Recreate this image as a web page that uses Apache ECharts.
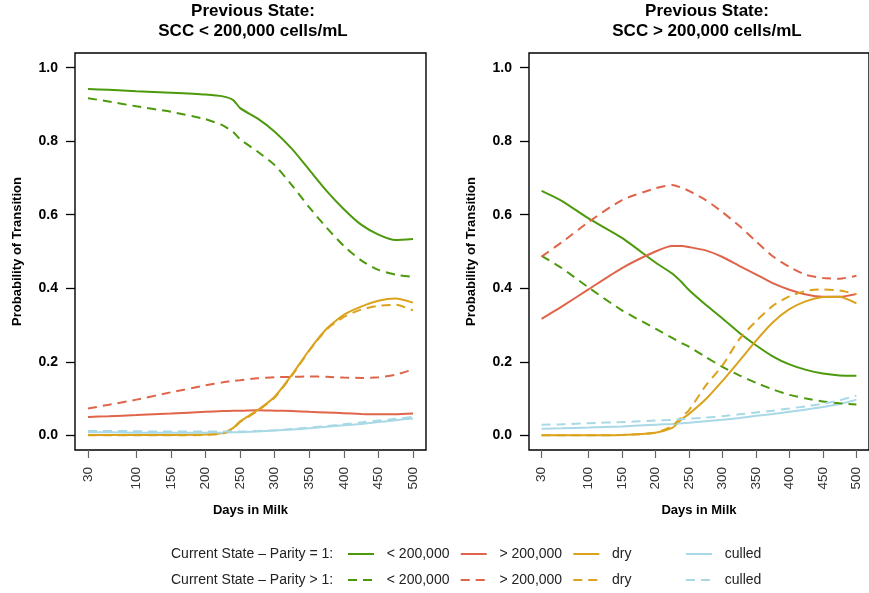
<!DOCTYPE html>
<html>
<head>
<meta charset="utf-8">
<script src="https://cdn.jsdelivr.net/npm/echarts@6/dist/echarts.min.js"></script>
<style>
html,body{margin:0;padding:0;background:#fff;}
#chart{width:869px;height:593px;}
</style>
</head>
<body>
<div id="chart"></div>
<script>
// ---------------- data ----------------
const days = [30, 60, 100, 150, 200, 225, 240, 250, 275, 300, 325, 350, 375, 400, 425, 450, 475, 500];
const dayTicks = [30, 100, 150, 200, 250, 300, 350, 400, 450, 500];
const probTicks = [0, 0.2, 0.4, 0.6, 0.8, 1.0];
const stateNames = ['< 200,000', '> 200,000', 'dry', 'culled'];
const parityLabels = ['Current State \u2013 Parity = 1:', 'Current State \u2013 Parity > 1:'];
const panelTitles = ['Previous State:\nSCC < 200,000 cells/mL', 'Previous State:\nSCC > 200,000 cells/mL'];
const xTitle = 'Days in Milk';
const yTitle = 'Probability of Transition';

// Left panel: previous state SCC < 200,000
const leftP1Low  = [0.942,0.940,0.936,0.932,0.927,0.922,0.912,0.890,0.862,0.826,0.779,0.722,0.665,0.615,0.573,0.546,0.531,0.534];
const leftP2Low  = [0.917,0.908,0.895,0.880,0.860,0.843,0.825,0.805,0.772,0.735,0.680,0.620,0.565,0.515,0.476,0.450,0.437,0.431];
const leftP1High = [0.050,0.052,0.055,0.059,0.064,0.066,0.067,0.067,0.068,0.067,0.066,0.064,0.062,0.060,0.058,0.057,0.057,0.059];
const leftP2High = [0.073,0.083,0.097,0.117,0.136,0.144,0.148,0.150,0.155,0.158,0.159,0.160,0.159,0.157,0.156,0.158,0.165,0.179];
const leftP1Dry  = [0.001,0.001,0.001,0.001,0.002,0.006,0.020,0.038,0.068,0.105,0.165,0.232,0.290,0.328,0.350,0.366,0.372,0.361];
const leftP2Dry  = [0.000,0.000,0.000,0.000,0.001,0.005,0.018,0.036,0.066,0.103,0.163,0.230,0.288,0.322,0.342,0.352,0.355,0.340];
const leftP1Cull = [0.008,0.008,0.007,0.007,0.007,0.007,0.008,0.008,0.010,0.013,0.016,0.019,0.023,0.027,0.031,0.036,0.041,0.046];
const leftP2Cull = [0.012,0.012,0.011,0.010,0.010,0.010,0.010,0.010,0.012,0.014,0.017,0.021,0.025,0.030,0.035,0.040,0.045,0.050];

// Right panel: previous state SCC > 200,000
const rightP1Low  = [0.665,0.638,0.590,0.537,0.470,0.440,0.415,0.395,0.355,0.318,0.279,0.245,0.215,0.193,0.178,0.168,0.163,0.162];
const rightP2Low  = [0.488,0.455,0.402,0.340,0.290,0.265,0.250,0.241,0.213,0.186,0.163,0.143,0.125,0.110,0.100,0.092,0.087,0.084];
const rightP1High = [0.317,0.350,0.397,0.455,0.500,0.515,0.515,0.512,0.503,0.485,0.461,0.438,0.414,0.396,0.383,0.377,0.377,0.384];
const rightP2High = [0.486,0.525,0.580,0.640,0.672,0.681,0.673,0.665,0.640,0.607,0.570,0.528,0.487,0.458,0.436,0.428,0.426,0.434];
const rightP1Dry  = [0.000,0.000,0.000,0.001,0.007,0.020,0.045,0.058,0.098,0.148,0.202,0.257,0.307,0.343,0.365,0.376,0.377,0.359];
const rightP2Dry  = [0.000,0.000,0.000,0.001,0.007,0.025,0.052,0.068,0.135,0.190,0.261,0.310,0.352,0.378,0.393,0.397,0.394,0.384];
const rightP1Cull = [0.018,0.019,0.021,0.024,0.029,0.031,0.033,0.034,0.038,0.042,0.047,0.053,0.058,0.064,0.070,0.077,0.085,0.097];
const rightP2Cull = [0.029,0.030,0.033,0.036,0.040,0.042,0.044,0.045,0.048,0.052,0.057,0.062,0.067,0.073,0.079,0.086,0.095,0.108];

// ---------------- styling ----------------
const colors = ['#4c9a0c', '#df644a', '#dba21c', '#a9d8e6'];
const dash = [9, 6];
const panels = [
  { p1: [leftP1Low, leftP1High, leftP1Dry, leftP1Cull], p2: [leftP2Low, leftP2High, leftP2Dry, leftP2Cull] },
  { p1: [rightP1Low, rightP1High, rightP1Dry, rightP1Cull], p2: [rightP2Low, rightP2High, rightP2Dry, rightP2Cull] }
];

const gridLefts = [75, 529];
const gridW = 351, gridTop = 53, gridH = 397;

const grids = [], xAxes = [], yAxes = [], series = [];
gridLefts.forEach((gl, i) => {
  grids.push({ left: gl, top: gridTop, width: gridW, height: gridH, show: true,
    borderColor: '#000', borderWidth: 1.4, backgroundColor: 'transparent' });
  xAxes.push({
    type: 'value', gridIndex: i, min: 11.2, max: 518.8,
    name: xTitle, nameLocation: 'middle', nameGap: 54,
    nameTextStyle: { fontFamily: 'Liberation Sans', fontWeight: 'bold', fontSize: 13, color: '#000' },
    axisLine: { show: false, onZero: false },
    axisTick: { show: true, length: 8, customValues: dayTicks, lineStyle: { color: '#666', width: 1.2 } },
    axisLabel: { show: true, rotate: 90, margin: 17, customValues: dayTicks,
      fontFamily: 'Liberation Sans', fontSize: 13.5, color: '#333' },
    splitLine: { show: false }
  });
  yAxes.push({
    type: 'value', gridIndex: i, min: -0.04, max: 1.04,
    name: yTitle, nameLocation: 'middle', nameGap: 51, nameRotate: 90,
    nameTextStyle: { fontFamily: 'Liberation Sans', fontWeight: 'bold', fontSize: 13, color: '#000' },
    axisLine: { show: false, onZero: false },
    axisTick: { show: true, length: 9, customValues: probTicks, lineStyle: { color: '#000', width: 1.3 } },
    axisLabel: { show: true, margin: 17, customValues: probTicks,
      formatter: v => Number(v).toFixed(1),
      fontFamily: 'Liberation Sans', fontWeight: 'bold', fontSize: 14, color: '#000' },
    splitLine: { show: false }
  });
  const pan = panels[i];
  [['p1', 'solid', parityLabels[0]], ['p2', dash, parityLabels[1]]].forEach(([key, lt, plab]) => {
    pan[key].forEach((vals, s) => {
      series.push({
        type: 'line', name: plab + '|' + stateNames[s], xAxisIndex: i, yAxisIndex: i,
        data: days.map((d, k) => [d, vals[k]]),
        symbol: 'none', smooth: 0.2,
        lineStyle: { color: colors[s], width: 2, type: lt },
        itemStyle: { color: colors[s] },
        z: 2
      });
    });
  });
});

// one legend per entry so that every column sits at a fixed position
const legendLefts = [347, 459.7, 572.3, 685];
const legendTops = [547, 573];
const legends = [];
parityLabels.forEach((plab, r) => {
  stateNames.forEach((s, c) => {
    legends.push({
      orient: 'horizontal', left: legendLefts[c], top: legendTops[r],
      itemWidth: 26, itemHeight: 14, selectedMode: false, padding: 0,
      itemStyle: { opacity: 0 },
      formatter: n => '  ' + n.split('|')[1],
      textStyle: { fontFamily: 'Liberation Sans', fontSize: 14, color: '#222' },
      data: [plab + '|' + s]
    });
  });
});

const option = {
  animation: false,
  backgroundColor: '#fff',
  grid: grids, xAxis: xAxes, yAxis: yAxes, series: series,
  legend: legends,
  graphic: [
    { type: 'text', x: 253, y: 21, style: { text: panelTitles[0], align: 'center', verticalAlign: 'middle',
      font: 'bold 17px "Liberation Sans"', lineHeight: 20, fill: '#000' } },
    { type: 'text', x: 707, y: 21, style: { text: panelTitles[1], align: 'center', verticalAlign: 'middle',
      font: 'bold 17px "Liberation Sans"', lineHeight: 20, fill: '#000' } },
    { type: 'text', x: 171, y: 554, style: { text: parityLabels[0], align: 'left', verticalAlign: 'middle',
      font: '14px "Liberation Sans"', fill: '#222' } },
    { type: 'text', x: 171, y: 580, style: { text: parityLabels[1], align: 'left', verticalAlign: 'middle',
      font: '14px "Liberation Sans"', fill: '#222' } }
  ]
};

const chart = echarts.init(document.getElementById('chart'), null, { renderer: 'canvas' });
chart.setOption(option);
</script>
</body>
</html>
